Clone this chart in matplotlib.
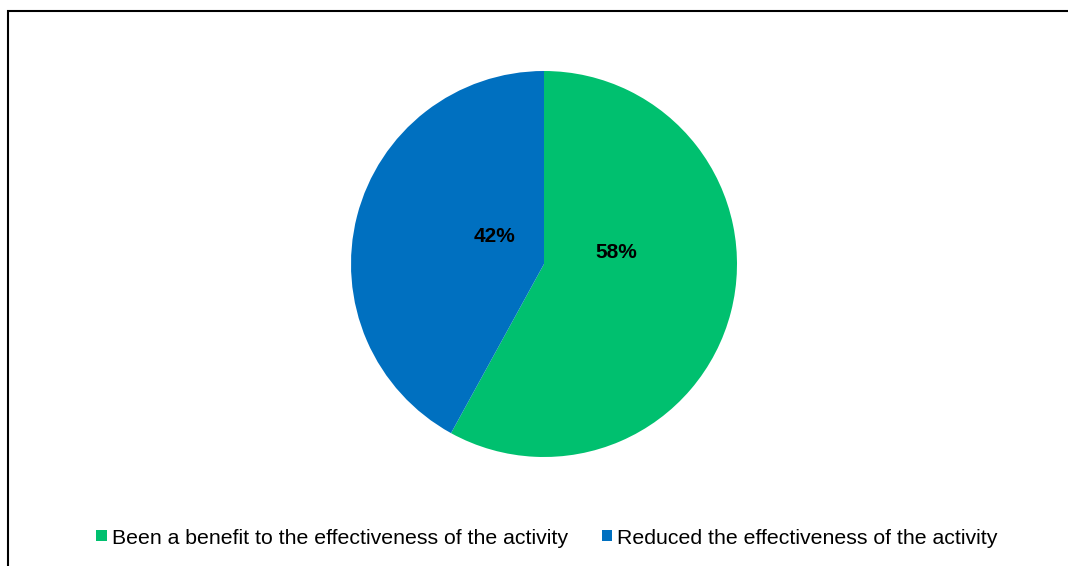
import matplotlib.pyplot as plt
from matplotlib.patches import Rectangle

plt.rcParams['font.family'] = ['Liberation Sans', 'DejaVu Sans']

labels = ["Been a benefit to the effectiveness of the activity",
          "Reduced the effectiveness of the activity"]
shares = [58, 42]
colors = ["#00C06F", "#0070C0"]

# where each percentage sits inside the pie (axes data units)
label_xy = [(0.375, 0.06), (-0.255, 0.145)]

W, H = 1068, 566
fig = plt.figure(figsize=(W / 100, H / 100), dpi=100)

# pie centred at (544, 264) px from top-left, radius 193 px
cx, cy, r = 544, 264, 193
ax = fig.add_axes([(cx - r) / W, (H - cy - r) / H, 2 * r / W, 2 * r / H])
wedges, _, autotexts = ax.pie(shares, colors=colors, startangle=90, counterclock=False,
                              autopct='%d%%', radius=1,
                              textprops=dict(fontsize=15, fontweight='bold', color='black'))
for t, (x, y) in zip(autotexts, label_xy):
    t.set_position((x, y))
    t.set_ha('center')
    t.set_va('center')
ax.set_xlim(-1, 1)
ax.set_ylim(-1, 1)
ax.set_aspect('equal')
ax.axis('off')

fig.legend(wedges, labels, loc='center', bbox_to_anchor=(547 / W, (H - 538) / H),
           ncol=2, frameon=False, fontsize=15.3, handlelength=0.48, handleheight=0.42,
           handletextpad=0.25, columnspacing=1.6)

# chart outline (runs off the right and bottom edges)
fig.patches.append(Rectangle((7.5 / W, -0.1), 1.2, (H - 10.5) / H + 0.1,
                             transform=fig.transFigure, fill=False,
                             edgecolor='black', linewidth=1.5))

fig.savefig('out.png', dpi=100)
